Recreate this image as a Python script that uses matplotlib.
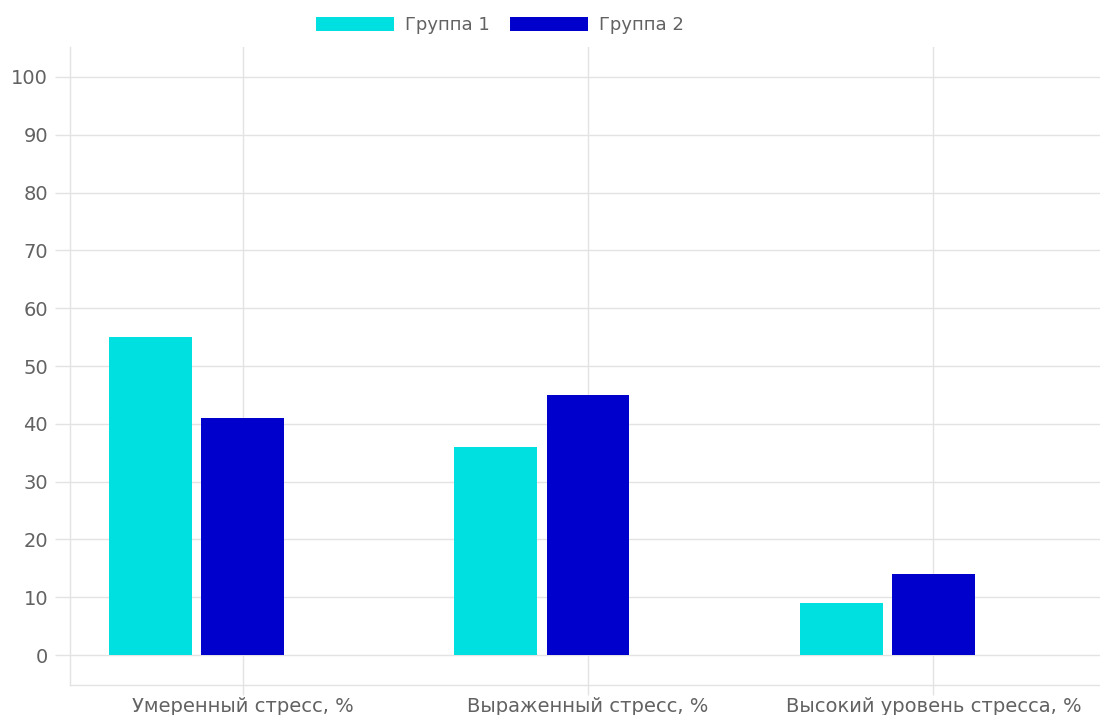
import numpy as np
import matplotlib
matplotlib.use("Agg")
import matplotlib.pyplot as plt

# data
categories = ["Умеренный стресс, %", "Выраженный стресс, %", "Высокий уровень стресса, %"]
group1 = [55, 36, 9]
group2 = [41, 45, 14]
series_names = ["Группа 1", "Группа 2"]
y_ticks = list(range(0, 101, 10))

plt.rcParams['font.family'] = ['DejaVu Sans']

grid_col = "#e3e3e3"
text_col = "#626262"
colors = ["#00e0e0", "#0000cd"]

W, H = 1100, 715
fig = plt.figure(figsize=(W / 100, H / 100), dpi=100)
ax = fig.add_axes([70 / W, 30 / H, (W - 70) / W, (685 - 47) / H])

# chart had three dataset slots per category, third one empty
n_slots = 3
slot = 0.8 / n_slots
bar_w = slot * 0.9
x = np.arange(len(categories))
for i, (vals, name) in enumerate(zip([group1, group2], series_names)):
    offs = (i - (n_slots - 1) / 2) * slot
    ax.bar(x + offs, vals, width=bar_w, color=colors[i], label=name, zorder=2)

ax.set_xlim(-0.5, 2.5 - 6 / 345.5)
ax.set_ylim(-5.19, 105.19)
ax.set_xticks(x)
ax.set_xticklabels(categories)
ax.set_yticks(y_ticks)

ax.set_axisbelow(True)
ax.grid(True, color=grid_col, linewidth=1)
for s in ["top", "right"]:
    ax.spines[s].set_visible(False)
for s in ["left", "bottom"]:
    ax.spines[s].set_color(grid_col)
    ax.spines[s].set_linewidth(1)

ax.tick_params(axis="y", length=10.8, width=1, color=grid_col, pad=5,
               labelsize=14, labelcolor=text_col)
ax.tick_params(axis="x", length=7.2, width=1, color=grid_col, pad=1.5,
               labelsize=14, labelcolor=text_col)

fig.legend(loc="center", bbox_to_anchor=(500 / W, 1 - 25 / H), ncol=2,
           frameon=False, fontsize=13, labelcolor=text_col,
           handlelength=4.3, handleheight=0.85, handletextpad=0.65,
           columnspacing=1.1)

plt.savefig("out.png", dpi=100)
